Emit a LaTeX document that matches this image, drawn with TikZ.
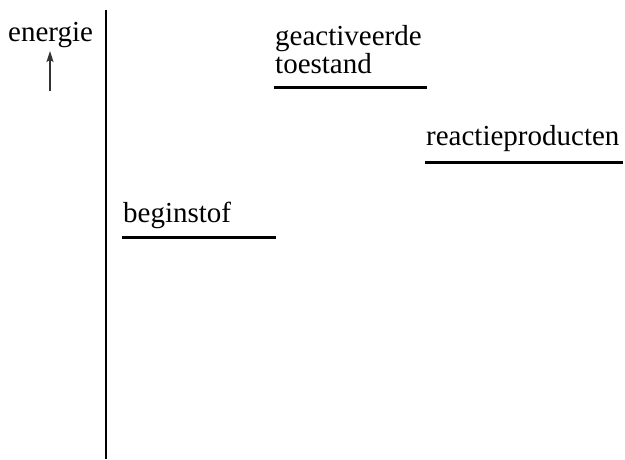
\documentclass[tikz,border=0pt]{standalone}
\usepackage{fontspec}
\setmainfont{Liberation Serif}
\usetikzlibrary{arrows.meta}

\tikzset{
  label/.style={inner sep=0pt, anchor=base west, font=\fontsize{29}{30}\selectfont},
  level/.style={line width=3pt}
}

\begin{document}
\begin{tikzpicture}[x=1pt,y=-1pt]
            \useasboundingbox (0,0) rectangle (625,459);
            % as
            \coordinate (top) at (106,10);
            \coordinate (bottom) at (106,459);
            \draw[line width=2pt] (top) -- (bottom);
            \node[label] (energie) at (8,41) {energie};
            \coordinate (pijlvoet) at (50,91);
            \coordinate (pijlpunt) at (50,51);
            \draw[line width=1.2pt, black!80, -{Stealth[length=11pt,width=7pt,inset=2pt]}] (pijlvoet) -- (pijlpunt);
            % niveaus
            \node[label] (geact) at (275,45) {geactiveerde};
            \node[label] (toestand) at (275,73) {toestand};
            \coordinate (g1) at (274,87);
            \coordinate (g2) at (427,87);
            \draw[level] (g1) -- (g2);
            \node[label] (product) at (426,145) {reactieproducten};
            \coordinate (p1) at (425,162);
            \coordinate (p2) at (623,162);
            \draw[level] (p1) -- (p2);
            \node[label] (begin) at (123,222) {beginstof};
            \coordinate (b1) at (122,237);
            \coordinate (b2) at (276,237);
            \draw[level] (b1) -- (b2);
        \end{tikzpicture}
\end{document}
